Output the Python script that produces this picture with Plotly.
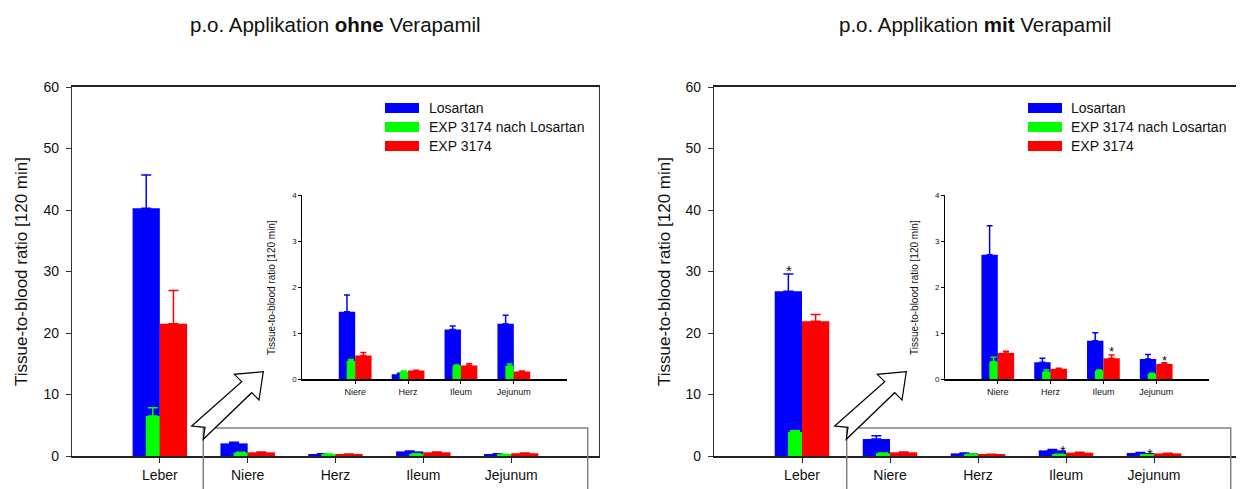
import plotly.graph_objects as go

# ---------------- data ----------------
organs_main = ["Leber", "Niere", "Herz", "Ileum", "Jejunum"]
organs_inset = ["Niere", "Herz", "Ileum", "Jejunum"]
series_names = ["Losartan", "EXP 3174 nach Losartan", "EXP 3174"]

# p.o. ohne Verapamil - main panel
ohne_main_losartan = [40.3, 2.05, 0.30, 0.75, 0.33]
ohne_main_losartan_err = [5.4, 0.20, 0.05, 0.08, 0.05]
ohne_main_exp_nach = [6.5, 0.55, 0.30, 0.35, 0.25]
ohne_main_exp_nach_err = [1.35, 0.05, 0.02, 0.03, 0.03]
ohne_main_exp = [21.5, 0.60, 0.30, 0.60, 0.45]
ohne_main_exp_err = [5.4, 0.05, 0.02, 0.05, 0.03]

# p.o. ohne Verapamil - inset
ohne_inset_losartan = [1.47, 0.11, 1.08, 1.21]
ohne_inset_losartan_err = [0.36, 0.02, 0.08, 0.18]
ohne_inset_exp_nach = [0.40, 0.17, 0.30, 0.29]
ohne_inset_exp_nach_err = [0.03, 0.01, 0.01, 0.04]
ohne_inset_exp = [0.52, 0.19, 0.30, 0.17]
ohne_inset_exp_err = [0.06, 0.005, 0.04, 0.01]

# p.o. mit Verapamil - main panel
mit_main_losartan = [26.8, 2.76, 0.43, 0.92, 0.50]
mit_main_losartan_err = [2.8, 0.55, 0.05, 0.15, 0.05]
mit_main_exp_nach = [3.9, 0.45, 0.25, 0.25, 0.20]
mit_main_exp_nach_err = [0.2, 0.05, 0.02, 0.02, 0.02]
mit_main_exp = [21.9, 0.60, 0.27, 0.54, 0.43]
mit_main_exp_err = [1.1, 0.05, 0.02, 0.06, 0.03]

# p.o. mit Verapamil - inset
mit_inset_losartan = [2.71, 0.37, 0.84, 0.44]
mit_inset_losartan_err = [0.63, 0.09, 0.17, 0.10]
mit_inset_exp_nach = [0.38, 0.16, 0.19, 0.12]
mit_inset_exp_nach_err = [0.10, 0.04, 0.01, 0.01]
mit_inset_exp = [0.57, 0.23, 0.46, 0.33]
mit_inset_exp_err = [0.04, 0.01, 0.07, 0.03]

# significance stars: (category, y value, x shift px)
mit_main_stars = [("Leber", 30.8, -13), ("Ileum", 1.6, -3), ("Jejunum", 1.0, -4)]
mit_inset_stars = [("Ileum", 0.67, 8), ("Jejunum", 0.48, 8)]

titles = ["p.o. Applikation <b>ohne</b> Verapamil", "p.o. Applikation <b>mit</b> Verapamil"]
ytitle = "Tissue-to-blood ratio [120 min]"

# ---------------- style ----------------
PAGE_OFF = 8  # browser body margin
W, H = 1244 - PAGE_OFF, 489 - PAGE_OFF
FONT = "Arial, Liberation Sans, sans-serif"
colors = ["#0000FF", "#00FF00", "#FF0000"]
offsets = [-0.31, -0.16, 0.0]
widths = [0.31, 0.16, 0.31]


def px(x):
    return (x - PAGE_OFF) / W


def py(y):
    return 1 - (y - PAGE_OFF) / H


fig = go.Figure()


def add_group(xa, ya, cats, vals, errs, capw):
    for i in range(3):
        fig.add_trace(go.Bar(
            x=cats, y=vals[i], name=series_names[i],
            marker=dict(color=colors[i], line=dict(width=0)),
            offset=offsets[i], width=widths[i],
            error_y=dict(type="data", symmetric=False, array=errs[i],
                         arrayminus=[0] * len(cats), color=colors[i],
                         thickness=1.5, width=capw),
            xaxis=xa, yaxis=ya, showlegend=False,
        ))


add_group("x", "y", organs_main,
          [ohne_main_losartan, ohne_main_exp_nach, ohne_main_exp],
          [ohne_main_losartan_err, ohne_main_exp_nach_err, ohne_main_exp_err], 5)
add_group("x2", "y2", organs_inset,
          [ohne_inset_losartan, ohne_inset_exp_nach, ohne_inset_exp],
          [ohne_inset_losartan_err, ohne_inset_exp_nach_err, ohne_inset_exp_err], 3)
add_group("x3", "y3", organs_main,
          [mit_main_losartan, mit_main_exp_nach, mit_main_exp],
          [mit_main_losartan_err, mit_main_exp_nach_err, mit_main_exp_err], 5)
add_group("x4", "y4", organs_inset,
          [mit_inset_losartan, mit_inset_exp_nach, mit_inset_exp],
          [mit_inset_losartan_err, mit_inset_exp_nach_err, mit_inset_exp_err], 3)

main_x = dict(type="category", range=[-1, 5], showline=True, linecolor="#222222",
              linewidth=1.5, mirror=True, ticks="outside", ticklen=5, tickcolor="#222222",
              tickfont=dict(size=14, color="#111111", family=FONT), showgrid=False,
              zeroline=False, automargin=False, fixedrange=True)
main_y = dict(range=[0, 60], dtick=10, showline=True, linecolor="#333333", linewidth=1.2,
              mirror=True, ticks="outside", ticklen=5, tickcolor="#333333",
              tickfont=dict(size=14, color="#111111", family=FONT), showgrid=False,
              zeroline=False, automargin=False, ticklabelstandoff=4, fixedrange=True)
inset_x = dict(type="category", range=[-1, 4], showline=True, linecolor="black",
               linewidth=2, ticks="outside", ticklen=3, tickcolor="black",
               tickfont=dict(size=9, color="#111111", family=FONT), showgrid=False,
               zeroline=False, automargin=False, fixedrange=True)
inset_y = dict(range=[0, 4], dtick=1, showline=True, linecolor="black", linewidth=1,
               ticks="outside", ticklen=3, tickcolor="black",
               tickfont=dict(size=8, color="#111111", family=FONT), showgrid=False,
               zeroline=False, automargin=False, fixedrange=True)

ydom_main = [py(456), py(87)]
ydom_inset = [py(379.3), py(195.3)]

fig.update_layout(
    width=W, height=H, margin=dict(l=0, r=0, t=0, b=0),
    paper_bgcolor="white", plot_bgcolor="rgba(0,0,0,0)",
    barmode="overlay", showlegend=False,
    font=dict(family=FONT, color="#111111"),
    xaxis=dict(main_x, domain=[px(72), px(599)], anchor="y"),
    yaxis=dict(main_y, domain=ydom_main, anchor="x"),
    xaxis2=dict(inset_x, domain=[px(302.3), px(566.7)], anchor="y2"),
    yaxis2=dict(inset_y, domain=ydom_inset, anchor="x2"),
    xaxis3=dict(main_x, domain=[px(714), px(1242)], anchor="y3"),
    yaxis3=dict(main_y, domain=ydom_main, anchor="x3"),
    xaxis4=dict(inset_x, domain=[px(945), px(1209)], anchor="y4"),
    yaxis4=dict(inset_y, domain=ydom_inset, anchor="x4"),
)

ann = []
# panel titles
for t, cx in zip(titles, [335, 975]):
    ann.append(dict(text=t, x=px(cx), y=py(25), xref="paper", yref="paper",
                    showarrow=False, xanchor="center", yanchor="middle",
                    font=dict(size=20.5, family=FONT, color="#111111")))
# main y titles
for cx in [21, 664]:
    ann.append(dict(text=ytitle, x=px(cx), y=py(272), xref="paper", yref="paper",
                    showarrow=False, textangle=-90, xanchor="center", yanchor="middle",
                    font=dict(size=17, family=FONT, color="#111111")))
# inset y titles
for cx in [271, 914]:
    ann.append(dict(text=ytitle, x=px(cx), y=py(288), xref="paper", yref="paper",
                    showarrow=False, textangle=-90, xanchor="center", yanchor="middle",
                    font=dict(size=10, family=FONT, color="#111111")))
# stars
for cat, yv, xs in mit_main_stars:
    ann.append(dict(text="*", x=cat, y=yv, xref="x3", yref="y3", showarrow=False,
                    xanchor="center", yanchor="middle", xshift=xs, yshift=-4,
                    font=dict(size=15, family=FONT, color="#111111")))
for cat, yv, xs in mit_inset_stars:
    ann.append(dict(text="*", x=cat, y=yv, xref="x4", yref="y4", showarrow=False,
                    xanchor="center", yanchor="middle", xshift=xs, yshift=-3,
                    font=dict(size=13, family=FONT, color="#111111")))

shapes = []
# legends (manual swatches + text)
for lx, tx in [(385, 427), (1028, 1069)]:
    for i, ry in enumerate([108, 127, 146]):
        shapes.append(dict(type="rect", xref="paper", yref="paper",
                           x0=px(lx), x1=px(lx + 34), y0=py(ry + 5), y1=py(ry - 5),
                           fillcolor=colors[i], line=dict(width=0)))
        ann.append(dict(text=series_names[i], x=px(tx), y=py(ry), xref="paper", yref="paper",
                        showarrow=False, xanchor="left", yanchor="middle",
                        font=dict(size=14, family=FONT, color="#111111")))

# zoom boxes (gray, open at bottom)
for lx, rx in [(203.3, 587.7), (846.7, 1230.7)]:
    path = f"M{px(lx)},{py(489)} L{px(lx)},{py(428)} L{px(rx)},{py(428)} L{px(rx)},{py(489)}"
    shapes.append(dict(type="path", xref="paper", yref="paper", path=path,
                       line=dict(color="#808080", width=1.5), layer="above"))

# hollow arrows
arrow_pts = [(191.7, 426), (241.7, 381.7), (234.3, 374.3), (263.3, 371.7),
             (259, 400), (251.7, 392.7), (203.3, 439.3), (205, 427.3)]
for dx in [0, 643]:
    d = "M" + " L".join(f"{px(x + dx)},{py(y)}" for x, y in arrow_pts) + " Z"
    shapes.append(dict(type="path", xref="paper", yref="paper", path=d,
                       fillcolor="white", line=dict(color="black", width=1.2), layer="above"))

fig.update_layout(annotations=ann, shapes=shapes)
fig.write_html("out.html")
